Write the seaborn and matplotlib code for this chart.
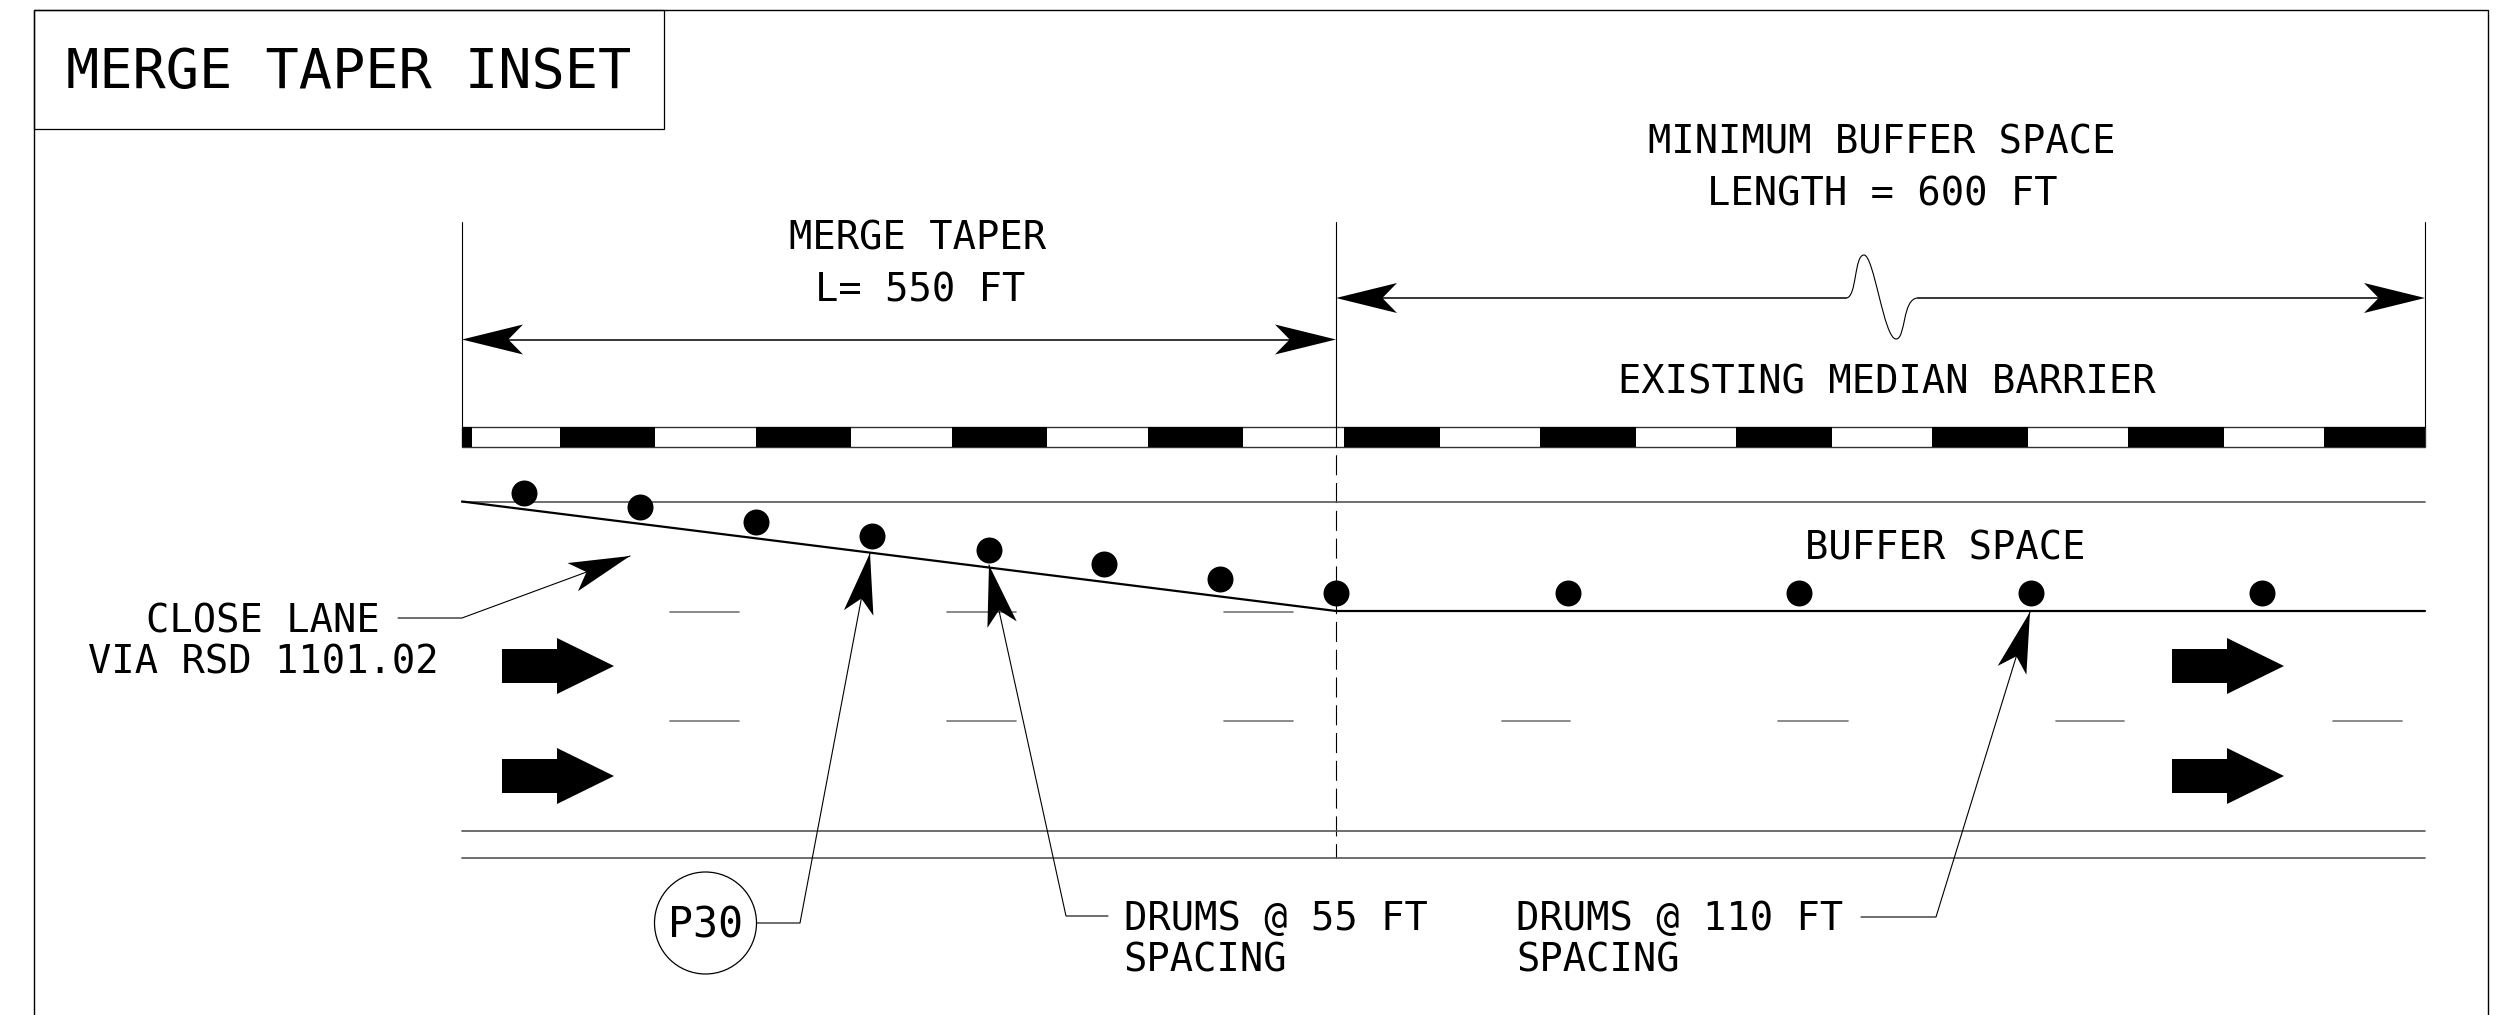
import numpy as np
import matplotlib
matplotlib.use('Agg')
import matplotlib.pyplot as plt
import seaborn as sns
from matplotlib.patches import Circle, PathPatch, Rectangle
from matplotlib.path import Path

taper_start = 462
taper_end = 1336
road_end = 2425

drum_x = [524, 640, 756, 872, 989, 1104, 1220, 1336, 1568, 1799, 2031, 2262]
drum_y = [493, 507, 522, 536, 550, 564, 579, 593, 593, 593, 593, 593]

taper_x = [taper_start, taper_end, road_end]
taper_y = [501.5, 611, 611]

edge_y = [501.5, 830.5, 857.5]

barrier_top = 427
barrier_bottom = 447
barrier_left = [462, 560, 756, 952, 1148, 1344, 1540, 1736, 1932, 2128, 2324]
barrier_right = [472, 655, 851, 1047, 1243, 1440, 1636, 1832, 2028, 2224, 2425]

lane_dash_left = [670, 947, 1224, 1502, 1778, 2056, 2333]
lane_dash_right = [739, 1016, 1293, 1570, 1848, 2124, 2402]
lane_row_1 = 611.5
lane_row_2 = 721

block_arrow_x = [502, 2172]
block_arrow_y = [666, 776]

# leaders: text end, elbow, tip
close_lane_x = [398, 462, 630]
close_lane_y = [618, 618, 556]
p30_x = [757, 800, 870]
p30_y = [923, 923, 553]
drums55_x = [1108, 1066, 989]
drums55_y = [916, 916, 565]
drums110_x = [1861, 1936, 2030]
drums110_y = [917, 917, 612]

labels_center = ['MINIMUM BUFFER SPACE', 'LENGTH = 600 FT', 'MERGE TAPER', 'L= 550 FT',
                 'EXISTING MEDIAN BARRIER', 'BUFFER SPACE']
labels_center_x = [1882, 1882, 918, 920, 1887, 1945]
labels_center_y = [153, 205.5, 249.5, 302, 394, 559]

labels_left = ['DRUMS @ 55 FT', 'SPACING', 'DRUMS @ 110 FT', 'SPACING']
labels_left_x = [1124, 1123, 1516, 1516]
labels_left_y = [930, 971.5, 930.5, 972]

labels_right = ['CLOSE LANE', 'VIA RSD 1101.02']
labels_right_x = [380, 439]
labels_right_y = [632.5, 674]

sns.set_theme(style='white')
plt.rcParams['font.family'] = ['DejaVu Sans Mono', 'DejaVu Sans']

fig = plt.figure(figsize=(25.08, 10.15), dpi=100, facecolor='white')
ax = fig.add_axes([0, 0, 1, 1])


def draw_line(xs, ys, lw=1.0, color='black', **kws):
    sns.lineplot(x=xs, y=ys, ax=ax, sort=False, estimator=None, errorbar=None,
                 linewidth=lw, color=color, legend=False, **kws)


def arrow_head(tip_x, tip_y, from_x, from_y, length=61, half=15):
    # stealth style head with a notch at the back
    d = np.array([from_x - tip_x, from_y - tip_y], dtype=float)
    d /= np.hypot(*d)
    n = np.array([-d[1], d[0]])
    tip = np.array([tip_x, tip_y])
    pts = [tip, tip + d * length + n * half, tip + d * length * 0.76, tip + d * length - n * half]
    ax.fill(*zip(*pts), color='black', lw=0, zorder=4)


# sheet frame and title box
draw_line([34, 34, 2488, 2488], [1015, 9.5, 9.5, 1015], lw=1.0)
ax.add_patch(Rectangle((34, 9.5), 630, 119, fill=False, ec='black', lw=0.9))
ax.text(66, 88, 'MERGE TAPER INSET', fontsize=39.8, ha='left', va='baseline', color='black')

# extension lines
for x in [taper_start, taper_end, road_end]:
    draw_line([x, x], [222, barrier_top], lw=0.8)
draw_line([taper_end, taper_end], [barrier_top, edge_y[2]], lw=0.8, linestyle=(0, (18, 7)))

# dimension arrows
draw_line([taper_start + 40, taper_end - 40], [339.5, 339.5], lw=1.1)
arrow_head(taper_start, 339.5, taper_end, 339.5)
arrow_head(taper_end, 339.5, taper_start, 339.5)

draw_line([taper_end + 40, 1846], [298, 298], lw=1.1)
draw_line([1918, road_end - 40], [298, 298], lw=1.1)
arrow_head(taper_end, 298, road_end, 298)
arrow_head(road_end, 298, taper_end, 298)
squiggle = Path([(1846, 298), (1857, 298), (1854, 255), (1864, 255),
                 (1874, 255), (1884, 339), (1896, 339),
                 (1906, 339), (1902, 298), (1918, 298)],
                [Path.MOVETO] + [Path.CURVE4] * 9)
ax.add_patch(PathPatch(squiggle, fill=False, ec='black', lw=0.8))

# median barrier
ax.add_patch(Rectangle((taper_start, barrier_top), road_end - taper_start, barrier_bottom - barrier_top,
                       fill=False, ec='#333333', lw=1.0))
for left, right in zip(barrier_left, barrier_right):
    ax.add_patch(Rectangle((left, barrier_top), right - left, barrier_bottom - barrier_top,
                           fc='black', ec='none'))

# pavement edges, closed lane line
for y in edge_y:
    draw_line([taper_start, road_end], [y, y], lw=1.2, color='#555555')
draw_line(taper_x, taper_y, lw=1.6)

# lane dashes
for i, (left, right) in enumerate(zip(lane_dash_left, lane_dash_right)):
    if i < 3:
        draw_line([left, right], [lane_row_1, lane_row_1], lw=1.2, color='#777777')
    draw_line([left, right], [lane_row_2, lane_row_2], lw=1.2, color='#777777')

# traffic arrows
for x0 in block_arrow_x:
    for yc in block_arrow_y:
        ax.fill([x0, x0 + 55, x0 + 55, x0 + 112, x0 + 55, x0 + 55, x0],
                [yc - 17, yc - 17, yc - 28, yc, yc + 28, yc + 17, yc + 17],
                color='black', lw=0, zorder=3)

# drums
sns.scatterplot(x=drum_x, y=drum_y, ax=ax, s=350, color='black', linewidth=0, zorder=5, legend=False)

# leaders
for xs, ys in [(close_lane_x, close_lane_y), (p30_x, p30_y), (drums55_x, drums55_y), (drums110_x, drums110_y)]:
    draw_line(xs, ys, lw=0.8)
    arrow_head(xs[2], ys[2], xs[1], ys[1])

ax.add_patch(Circle((705.5, 923), 51, fill=False, ec='black', lw=0.9))
ax.text(705.5, 938, 'P30', fontsize=30, ha='center', va='baseline', color='black')

for s, x, y in zip(labels_center, labels_center_x, labels_center_y):
    ax.text(x, y, s, fontsize=27.9, ha='center', va='baseline', color='black')
for s, x, y in zip(labels_left, labels_left_x, labels_left_y):
    ax.text(x, y, s, fontsize=27.9, ha='left', va='baseline', color='black')
for s, x, y in zip(labels_right, labels_right_x, labels_right_y):
    ax.text(x, y, s, fontsize=27.9, ha='right', va='baseline', color='black')

ax.set_xlim(0, 2508)
ax.set_ylim(1015, 0)
ax.axis('off')

fig.savefig('out.png', dpi=100, facecolor='white')
